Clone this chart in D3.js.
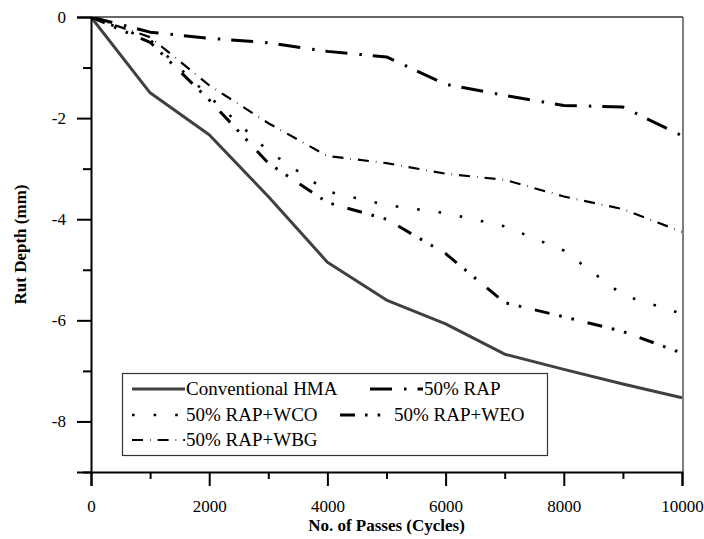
<!DOCTYPE html>
<meta charset="utf-8">
<script src="https://d3js.org/d3.v7.min.js"></script>
<body style="margin:0; background:#fff">
<div id="chart"></div>
<script>
// data
var passes = [0, 1000, 2000, 3000, 4000, 5000, 6000, 7000, 8000, 9000, 10000];
var hma = [0, -1.5, -2.33, -3.55, -4.85, -5.6, -6.07, -6.67, -6.97, -7.26, -7.53];
var rap = [0, -0.3, -0.42, -0.51, -0.68, -0.79, -1.33, -1.55, -1.75, -1.78, -2.35];
var rapWco = [0, -0.45, -1.57, -2.65, -3.45, -3.72, -3.88, -4.14, -4.62, -5.5, -5.87];
var rapWeo = [0, -0.5, -1.64, -2.89, -3.67, -4.0, -4.68, -5.65, -5.93, -6.22, -6.65];
var rapWbg = [0, -0.4, -1.35, -2.1, -2.75, -2.89, -3.1, -3.22, -3.55, -3.8, -4.25];
var seriesNames = ["Conventional HMA", "50% RAP", "50% RAP+WCO", "50% RAP+WEO", "50% RAP+WBG"];
var xTicks = [0, 2000, 4000, 6000, 8000, 10000];
var yTicks = [0, -2, -4, -6, -8];

var width = 704, height = 539;
var margin = {top: 17, right: 21, bottom: 67, left: 91};
var serif = "'Liberation Serif'";

var svg = d3.select("#chart").append("svg")
    .attr("width", width)
    .attr("height", height);

var x = d3.scaleLinear().domain([0, 10000]).range([margin.left, width - margin.right - 1]);
var y = d3.scaleLinear().domain([0, -9]).range([margin.top, height - margin.bottom]);

// line styles
var styles = [
  {stroke: "#404040", width: 3, dash: null},
  {stroke: "#000", width: 3, dash: "22,12,2.5,11"},
  {stroke: "#000", width: 2.6, dash: "2.6,19"},
  {stroke: "#000", width: 3, dash: "15,10,2.6,10,2.6,14"},
  {stroke: "#000", width: 2.2, dash: "11,7,0.6,7"}
];
var allSeries = [hma, rap, rapWco, rapWeo, rapWbg];

// frame: top and right border
svg.append("line")
    .attr("x1", x(0)).attr("x2", x(10000) + 1)
    .attr("y1", y(0)).attr("y2", y(0))
    .attr("stroke", "#333").attr("stroke-width", 1.5);
svg.append("line")
    .attr("x1", x(10000) + 1).attr("x2", x(10000) + 1)
    .attr("y1", y(0)).attr("y2", y(-9))
    .attr("stroke", "#555").attr("stroke-width", 1.5);

svg.append("clipPath").attr("id", "clip")
  .append("rect")
    .attr("x", x(0)).attr("y", y(0))
    .attr("width", x(10000) - x(0) + 1).attr("height", y(-9) - y(0));

var line = d3.line()
    .x(function(d, i) { return x(passes[i]); })
    .y(function(d) { return y(d); });

svg.append("g").attr("clip-path", "url(#clip)")
  .selectAll("path")
  .data(allSeries)
  .enter().append("path")
    .attr("d", line)
    .attr("fill", "none")
    .attr("stroke-linejoin", "round")
    .attr("stroke", function(d, i) { return styles[i].stroke; })
    .attr("stroke-width", function(d, i) { return styles[i].width; })
    .attr("stroke-dasharray", function(d, i) { return styles[i].dash; });

// x axis
var xAxis = svg.append("g")
    .attr("transform", "translate(0," + y(-9) + ")")
    .call(d3.axisBottom(x).tickValues(xTicks).tickSize(14).tickPadding(14).tickFormat(d3.format("d")));
svg.append("g")
    .attr("transform", "translate(0," + y(-9) + ")")
    .call(d3.axisBottom(x).tickValues(d3.range(1000, 10000, 2000)).tickSize(7).tickFormat(""))
    .select(".domain").remove();

// y axis
var yAxis = svg.append("g")
    .attr("transform", "translate(" + x(0) + ",0)")
    .call(d3.axisLeft(y).tickValues(yTicks).tickSize(14).tickPadding(11).tickFormat(d3.format("d")));
svg.append("g")
    .attr("transform", "translate(" + x(0) + ",0)")
    .call(d3.axisLeft(y).tickValues([-1, -3, -5, -7, -9]).tickSize(8).tickFormat(""))
    .select(".domain").remove();

svg.selectAll(".domain").attr("stroke", "#000").attr("stroke-width", 2);
svg.selectAll(".tick line").attr("stroke", "#000").attr("stroke-width", 2);
yAxis.selectAll(".tick text").text(function(d) { return d === 0 ? "0" : "-" + Math.abs(d); });
svg.selectAll(".tick text")
    .style("font-family", serif)
    .style("font-size", "17px")
    .attr("fill", "#000");

// axis titles
svg.append("text")
    .attr("x", (x(0) + x(10000)) / 2)
    .attr("y", 531)
    .attr("text-anchor", "middle")
    .style("font-family", serif)
    .style("font-size", "17px")
    .style("font-weight", "bold")
    .text("No. of Passes (Cycles)");

svg.append("text")
    .attr("transform", "translate(26," + (y(0) + y(-9)) / 2 + ") rotate(-90)")
    .attr("text-anchor", "middle")
    .style("font-family", serif)
    .style("font-size", "17px")
    .style("font-weight", "bold")
    .text("Rut Depth (mm)");

// legend
var legend = svg.append("g");
legend.append("rect")
    .attr("x", 122.5).attr("y", 373.5)
    .attr("width", 425).attr("height", 82)
    .attr("fill", "#fff")
    .attr("stroke", "#333").attr("stroke-width", 1.2);

var legendPos = [
  {x: 132, y: 389},
  {x: 370, y: 389},
  {x: 132, y: 415},
  {x: 340, y: 415},
  {x: 132, y: 440}
];
var sampleLen = 53;

var items = legend.selectAll(".item")
    .data(seriesNames)
    .enter().append("g")
    .attr("class", "item")
    .attr("transform", function(d, i) { return "translate(" + legendPos[i].x + "," + legendPos[i].y + ")"; });

items.append("line")
    .attr("x1", 0).attr("x2", sampleLen)
    .attr("y1", 0).attr("y2", 0)
    .attr("stroke", function(d, i) { return styles[i].stroke; })
    .attr("stroke-width", function(d, i) { return styles[i].width; })
    .attr("stroke-dasharray", function(d, i) { return styles[i].dash; });

items.append("text")
    .attr("x", sampleLen + 1)
    .attr("dy", "0.33em")
    .style("font-family", serif)
    .style("font-size", "19px")
    .text(function(d) { return d; });
</script>
